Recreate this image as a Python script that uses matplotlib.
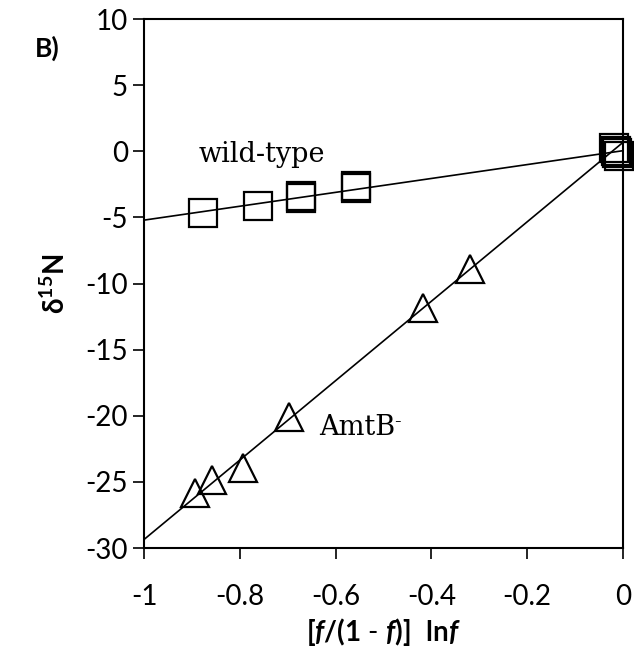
import numpy as np
import matplotlib
import matplotlib.pyplot as plt

matplotlib.use("Agg")

# data
wt_x = [-0.878, -0.762, -0.672, -0.672, -0.557, -0.557, -0.018, -0.015, -0.011, -0.008]
wt_y = [-4.68, -4.12, -3.37, -3.52, -2.64, -2.80, 0.22, 0.05, -0.15, -0.34]

amt_x = [-0.894, -0.859, -0.794, -0.698, -0.418, -0.319]
amt_y = [-25.84, -24.86, -23.95, -20.09, -11.85, -8.87]

x_ticks = [-1, -0.8, -0.6, -0.4, -0.2, 0]
x_labels = ["-1", "-0.8", "-0.6", "-0.4", "-0.2", "0"]
y_ticks = [-30, -25, -20, -15, -10, -5, 0, 5, 10]

plt.rcParams["axes.unicode_minus"] = False
plt.rcParams["mathtext.fontset"] = "custom"
plt.rcParams["mathtext.rm"] = "Lato"
plt.rcParams["mathtext.bf"] = "Lato:bold"
plt.rcParams["mathtext.it"] = "Lato:italic"
plt.rcParams["mathtext.bfit"] = "Lato:bold:italic"
plt.rcParams["mathtext.fallback"] = "stix"

fig = plt.figure(figsize=(6.34, 6.47), dpi=100)
ax = fig.add_axes([0.2279, 0.1530, 0.7543, 0.8176])

# trendlines from a linear fit
xs = np.array([-1.0, 0.0])
k, b = np.polyfit(wt_x, wt_y, 1)
ax.plot(xs, k * xs + b, color="black", lw=1.2, zorder=2)
k, b = np.polyfit(amt_x, amt_y, 1)
ax.plot(xs, k * xs + b, color="black", lw=1.2, zorder=2)

ax.plot(wt_x, wt_y, ls="none", marker="s", ms=20, mfc="none", mec="black",
        mew=1.6, clip_on=False, zorder=3)
ax.plot(amt_x, amt_y, ls="none", marker="^", ms=20, mfc="none", mec="black",
        mew=1.6, clip_on=False, zorder=3)

ax.text(-0.886, -0.79, "wild-type", family="DejaVu Serif", fontsize=19.5)
ax.text(-0.635, -21.46, "AmtB", family="DejaVu Serif", fontsize=19.5)
ax.text(-0.478, -20.82, "-", family="DejaVu Serif", fontsize=14)

ax.set_xlim(-1, 0)
ax.set_ylim(-30, 10)
ax.set_xticks(x_ticks)
ax.set_xticklabels(x_labels)
ax.set_yticks(y_ticks)
ax.tick_params(direction="out", length=8, width=1.2, labelsize=20)
ax.tick_params(axis="y", pad=4)
ax.tick_params(axis="x", pad=18)
for lab in ax.get_xticklabels() + ax.get_yticklabels():
    lab.set_family("Lato")
for s in ax.spines.values():
    s.set_linewidth(1.5)

ax.set_xlabel(r"$\mathbf{[}\mathbfit{f}\mathbf{/(1\ \text{-}\ }\mathbfit{f}\mathbf{)]\ \ ln}\mathbfit{f}$",
              fontsize=20, labelpad=4)
ax.set_ylabel(r"$\mathbf{\delta^{15}N}$", fontsize=20, labelpad=10)

fig.text(0.074, 0.925, "B)", family="Lato", fontweight="bold", fontsize=19,
         ha="center", va="center")

plt.savefig("out.png", dpi=100)
plt.close()
